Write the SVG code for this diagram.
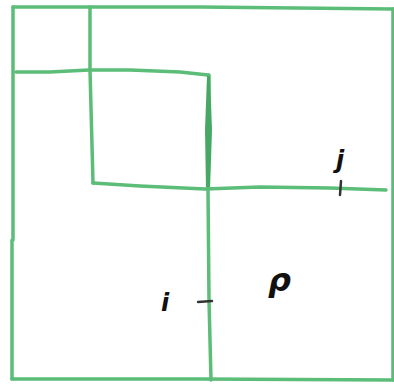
<svg xmlns="http://www.w3.org/2000/svg" width="394" height="387" viewBox="0 0 394 387">
<style>
.g{stroke:#5bbd78;stroke-width:3.5;fill:none;stroke-linecap:round;stroke-linejoin:round}
.t{stroke:#333;stroke-width:2.5;fill:none;stroke-linecap:round}
.lbl{font-family:"DejaVu Sans",sans-serif;fill:#111;font-weight:bold}
</style>
<rect width="394" height="387" fill="#fff"/>
<g id="frame">
<path class="g" d="M13,7 L200,7 L393,9"/>
<path class="g" d="M13,7 L13,240 M12,240 L12,379"/>
<path class="g" d="M12,379 L200,379 L393,380"/>
<path class="g" d="M393,9 L393,380"/>
</g>
<g id="lines">
<path class="g" d="M90,7 L90,70 L93,183"/>
<path class="g" d="M16,72 L50,72 L89,70 L130,70 L180,72 L208,75"/>
<path class="g" d="M209,75 L208,190 L209,300 L211,380"/>
<path d="M207,76 L210,76 L212,130 L210,190 L206,190 L205,130 Z" fill="#47a865"/>
<path class="g" d="M93,183 L140,186 L205,189 L260,187 L330,188 L386,190"/>
</g>
<g id="ticks">
<path class="t" d="M341,181 L340,195"/>
<path class="t" d="M198,302 L212,301"/>
</g>
<g id="labels">
<text class="lbl" x="336" y="168" font-size="24" font-style="italic">j</text>
<text class="lbl" x="161" y="311" font-size="24" font-style="italic">i</text>
<text class="lbl" x="268" y="291" font-size="32" font-style="italic">ρ</text>
</g>
</svg>
